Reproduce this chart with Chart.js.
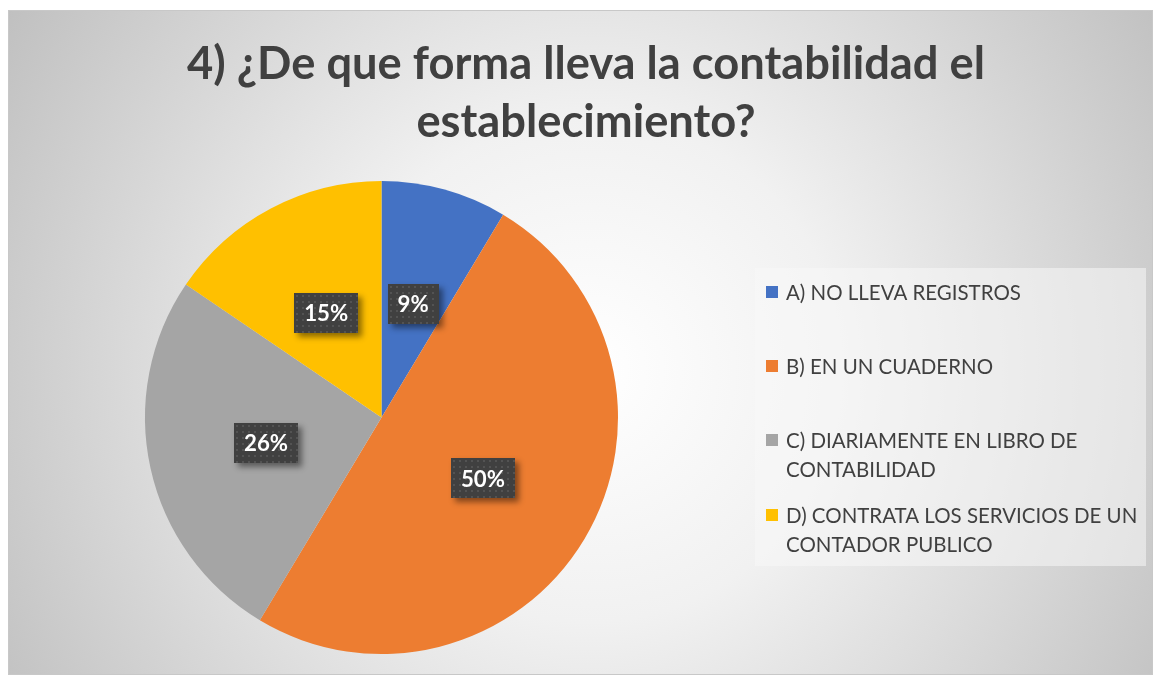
<!DOCTYPE html>
<html>
<head>
<meta charset="utf-8">
<script src="https://cdn.jsdelivr.net/npm/chart.js@4.4.1/dist/chart.umd.min.js"></script>
<style>
  html, body { margin: 0; padding: 0; background: #ffffff; }
  #wrap { width: 1153px; height: 677px; position: relative; }
  canvas { display: block; }
</style>
</head>
<body>
<div id="wrap"><canvas id="c" width="1153" height="677"></canvas></div>
<script>
const titleLines = ['4) ¿De que forma lleva la contabilidad el', 'establecimiento?'];
const categories = [
  'A) NO LLEVA REGISTROS',
  'B) EN UN CUADERNO',
  'C) DIARIAMENTE EN LIBRO DE CONTABILIDAD',
  'D) CONTRATA LOS SERVICIOS DE UN CONTADOR PUBLICO'
];
const values = [8.6, 50, 25.9, 15.5];
const valueLabels = ['9%', '50%', '26%', '15%'];
const sliceColors = ['#4472C4', '#ED7D31', '#A5A5A5', '#FFC000'];

const FONT = 'Lato, "Open Sans", "DejaVu Sans", sans-serif';
const TEXT_COLOR = '#404040';

function fitFont(ctx, weight, text, targetWidth) {
  ctx.font = weight + ' 100px ' + FONT;
  const w = ctx.measureText(text).width;
  return 100 * targetWidth / w;
}

function wrapText(ctx, text, maxW) {
  const words = text.split(' ');
  const lines = [];
  let cur = '';
  for (const w of words) {
    const test = cur ? cur + ' ' + w : w;
    if (ctx.measureText(test).width > maxW && cur) {
      lines.push(cur);
      cur = w;
    } else cur = test;
  }
  if (cur) lines.push(cur);
  return lines;
}

const decor = {
  id: 'decor',
  beforeDraw(chart) {
    const ctx = chart.ctx;
    ctx.save();
    ctx.fillStyle = '#ffffff';
    ctx.fillRect(0, 0, 1153, 677);
    const bx = 8, by = 10, bw = 1153 - 8, bh = 675 - 10;
    const g = ctx.createRadialGradient(590, 370, 0, 590, 370, 720);
    g.addColorStop(0, '#ffffff');
    g.addColorStop(0.35, '#f1f1f1');
    g.addColorStop(1, '#bcbcbc');
    ctx.fillStyle = g;
    ctx.fillRect(bx, by, bw, bh);
    ctx.strokeStyle = '#c8c8c8';
    ctx.lineWidth = 1;
    ctx.strokeRect(bx + 0.5, by + 0.5, bw - 1, bh - 1);

    const tSize = fitFont(ctx, 'bold', titleLines[0], 798);
    ctx.font = 'bold ' + tSize + 'px ' + FONT;
    ctx.fillStyle = TEXT_COLOR;
    ctx.textAlign = 'center';
    ctx.textBaseline = 'middle';
    ctx.fillText(titleLines[0], 586, 64);
    ctx.fillText(titleLines[1], 586, 122);

    ctx.fillStyle = 'rgba(248,248,248,0.55)';
    ctx.fillRect(755, 268, 391, 298);

    const lSize = fitFont(ctx, 'normal', categories[0], 235);
    ctx.font = lSize + 'px ' + FONT;
    ctx.textAlign = 'left';
    const itemY = [292, 366, 440, 515];
    const lineH = 29;
    categories.forEach((cat, i) => {
      const y = itemY[i];
      ctx.fillStyle = sliceColors[i];
      ctx.fillRect(766, y - 6, 12, 12);
      ctx.fillStyle = TEXT_COLOR;
      const lines = wrapText(ctx, cat, 362);
      lines.forEach((ln, k) => ctx.fillText(ln, 786, y + k * lineH + 1));
    });
    ctx.restore();
  },
  afterDatasetsDraw(chart) {
    const ctx = chart.ctx;
    const meta = chart.getDatasetMeta(0);
    ctx.save();
    const fSize = fitFont(ctx, 'bold', '15%', 44);
    ctx.font = 'bold ' + fSize + 'px ' + FONT;
    ctx.textAlign = 'center';
    ctx.textBaseline = 'middle';
    meta.data.forEach((arc, i) => {
      const p = arc.tooltipPosition();
      const txt = valueLabels[i];
      const tw = ctx.measureText(txt).width;
      const w = Math.round(tw + 20), h = 40;
      const x = Math.round(p.x - w / 2), y = Math.round(p.y - h / 2);
      ctx.save();
      ctx.shadowColor = 'rgba(0,0,0,0.45)';
      ctx.shadowBlur = 6;
      ctx.shadowOffsetX = 4;
      ctx.shadowOffsetY = 4;
      ctx.fillStyle = '#404040';
      ctx.fillRect(x, y, w, h);
      ctx.restore();
      ctx.fillStyle = 'rgba(255,255,255,0.10)';
      for (let yy = y + 2; yy < y + h - 1; yy += 6) {
        for (let xx = x + 2; xx < x + w - 1; xx += 6) {
          ctx.fillRect(xx, yy, 2, 2);
        }
      }
      ctx.fillStyle = '#ffffff';
      ctx.fillText(txt, p.x, p.y + 1);
    });
    ctx.restore();
  }
};

new Chart(document.getElementById('c'), {
  type: 'pie',
  data: {
    labels: categories,
    datasets: [{
      data: values,
      backgroundColor: sliceColors,
      borderWidth: 0
    }]
  },
  options: {
    responsive: false,
    animation: false,
    devicePixelRatio: 1,
    layout: { padding: { left: 145, right: 535, top: 181, bottom: 23 } },
    plugins: {
      legend: { display: false },
      title: { display: false },
      tooltip: { enabled: false }
    }
  },
  plugins: [decor]
});
</script>
</body>
</html>
